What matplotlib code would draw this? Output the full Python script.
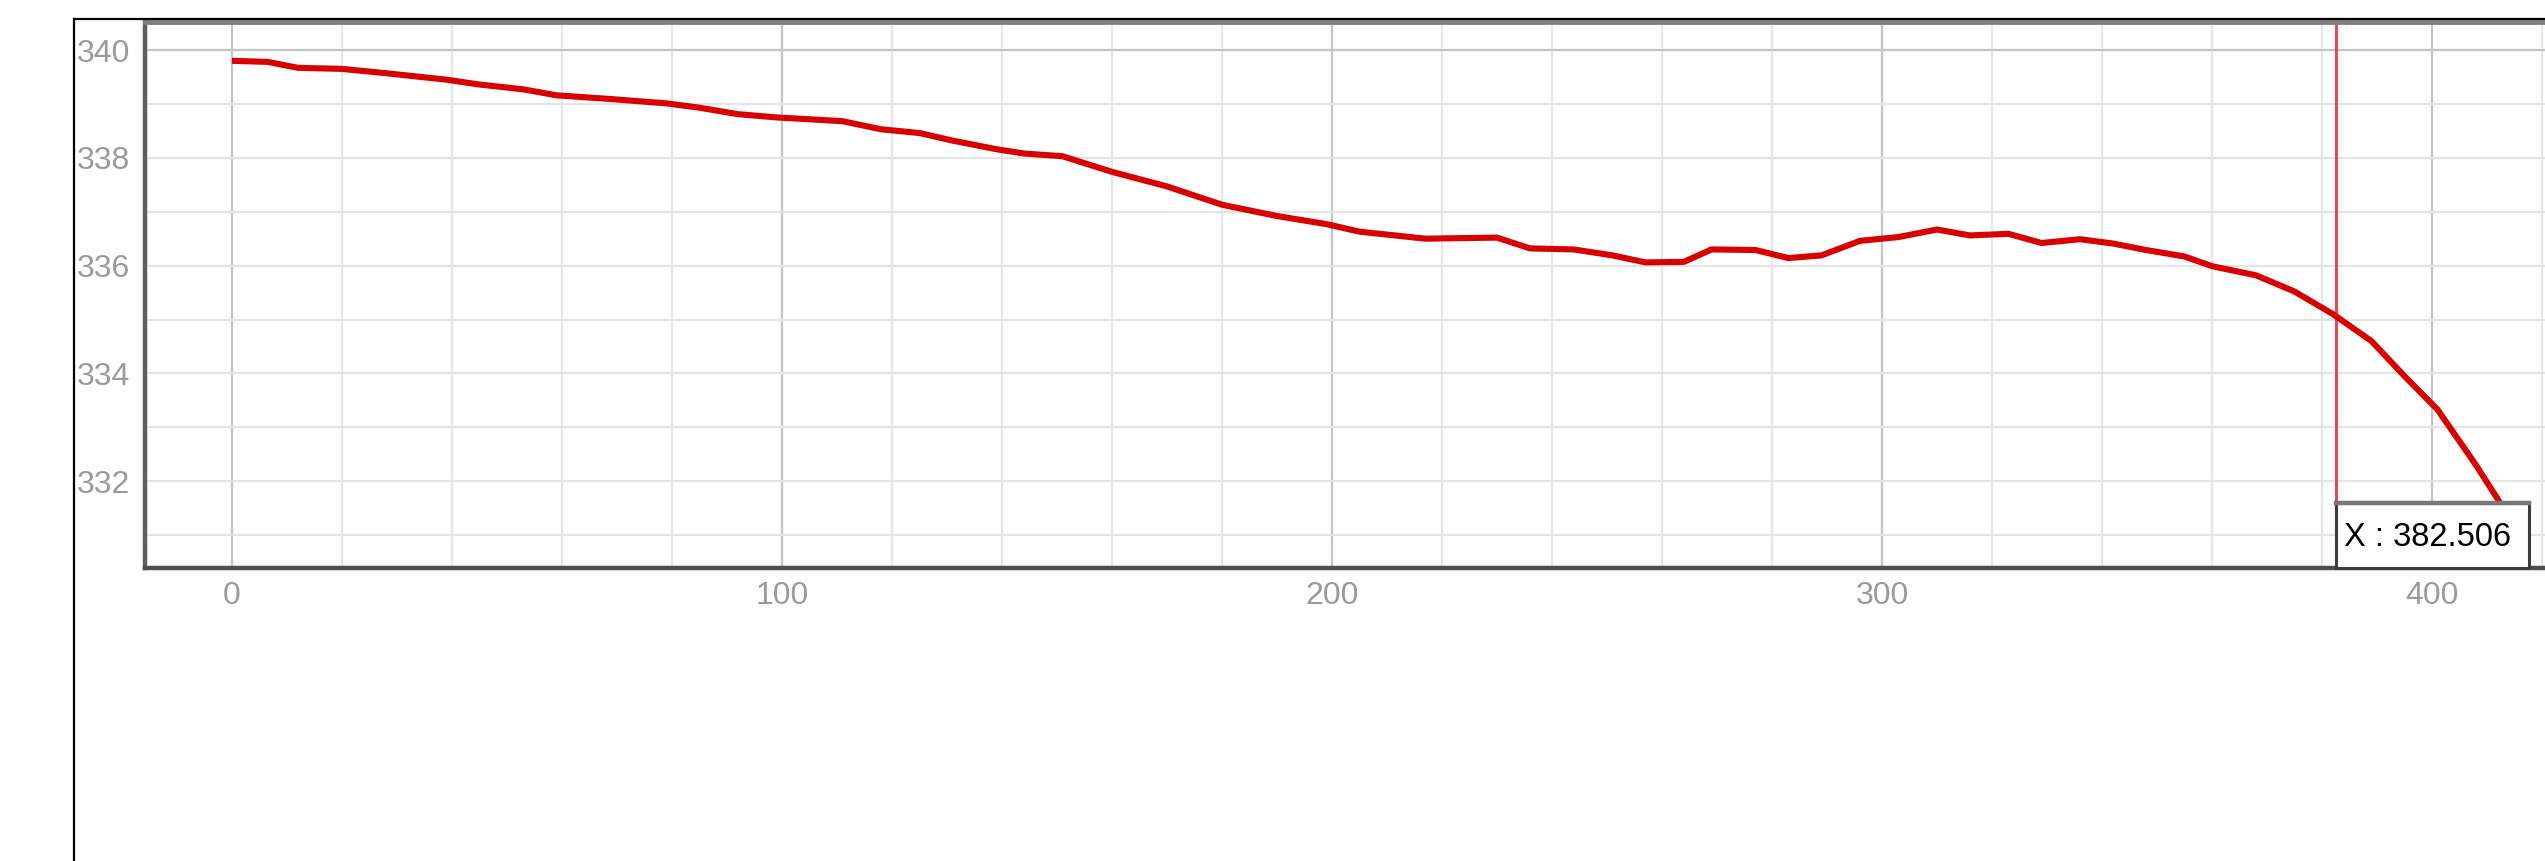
import matplotlib
matplotlib.use("Agg")
import matplotlib.pyplot as plt
from matplotlib.lines import Line2D
from matplotlib.patches import Rectangle
from matplotlib.transforms import blended_transform_factory
import numpy as np

# ---- data ----
x_vals = [0, 6.5, 12, 20, 28, 39, 45, 53, 59, 69,
          79, 85, 92, 99, 111, 118, 125, 131, 139, 144,
          151, 160, 170, 180, 190, 199, 205, 217, 230, 236,
          244, 251, 257, 264, 269, 277, 283, 289, 296, 303,
          310, 316, 323, 329, 336, 342, 348, 355, 360, 368,
          375, 382, 389, 395, 401, 408, 415.5]
y_vals = [339.80, 339.78, 339.67, 339.65, 339.57, 339.45, 339.36, 339.27, 339.16, 339.09,
          339.01, 338.93, 338.81, 338.75, 338.68, 338.53, 338.46, 338.32, 338.16, 338.08,
          338.03, 337.74, 337.47, 337.13, 336.92, 336.77, 336.63, 336.50, 336.52, 336.32,
          336.30, 336.19, 336.06, 336.07, 336.30, 336.29, 336.14, 336.19, 336.46, 336.53,
          336.67, 336.56, 336.59, 336.42, 336.49, 336.41, 336.29, 336.17, 335.99, 335.82,
          335.52, 335.10, 334.60, 333.95, 333.33, 332.30, 331.10]
x_ticks = [0, 100, 200, 300, 400]
y_ticks = [332, 334, 336, 338, 340]
x_minor_step = 20
y_minor_step = 1
cursor_x = 382.506
cursor_label = "X : 382.506"

W, H = 2545, 861
fig = plt.figure(figsize=(W / 100, H / 100), dpi=100)
fig.patch.set_facecolor("white")

# axes placement (pixels)
ax_left, ax_right, ax_top, ax_bottom = 145, 2545, 22, 568
ax = fig.add_axes([ax_left / W, 1 - ax_bottom / H,
                   (ax_right - ax_left) / W, (ax_bottom - ax_top) / H])
ax.set_facecolor("white")
ax.set_xlim(-15.8, 420.55)
ax.set_ylim(330.39, 340.52)

# grid
xmin, xmax = ax.get_xlim()
ymin, ymax = ax.get_ylim()
for v in np.arange(0, xmax, x_minor_step):
    major = any(abs(v - t) < 1e-6 for t in x_ticks)
    ax.axvline(v, color="#c4c4c4" if major else "#e6e6e6", lw=1.6, zorder=0)
for v in np.arange(np.ceil(ymin), ymax, y_minor_step):
    major = abs(v % 10) < 1e-6
    ax.axhline(v, color="#c4c4c4" if major else "#e4e4e4", lw=1.6, zorder=0)

# data line
ax.plot(x_vals, y_vals, color="#d80000", lw=4.4, solid_joinstyle="round",
        solid_capstyle="butt", zorder=3)

# cursor
ax.axvline(cursor_x, color="#e03a3a", lw=2.2, alpha=0.9, zorder=2)
trans = blended_transform_factory(ax.transData, ax.transAxes)
box_w = 193 / 5.5
box_h = 65 / (ax_bottom - ax_top)
ax.add_patch(Rectangle((cursor_x, 0), box_w, box_h, transform=trans,
                       facecolor="white", edgecolor="#3c3c3c", lw=2.2, zorder=5,
                       clip_on=False))
ax.add_line(Line2D([cursor_x, cursor_x + box_w], [box_h, box_h], transform=trans,
                   color="#777777", lw=3.2, zorder=6, clip_on=False))
ax.text(cursor_x + 8 / 5.5, box_h * 0.47, cursor_label, transform=trans,
        ha="left", va="center", fontsize=23.5, family="Liberation Sans",
        color="black", zorder=7)

# ticks
ax.set_xticks(x_ticks)
ax.set_yticks(y_ticks)
ax.set_xticklabels([str(t) for t in x_ticks])
ax.set_yticklabels([str(t) for t in y_ticks])
ax.tick_params(axis="both", length=0, labelsize=23, labelcolor="#9a9a9a")
ax.tick_params(axis="y", pad=11)
ax.tick_params(axis="x", pad=9)
for lbl in ax.get_xticklabels() + ax.get_yticklabels():
    lbl.set_family("Liberation Sans")

# spines
ax.spines["right"].set_visible(False)
ax.spines["top"].set_color("#808080")
ax.spines["top"].set_linewidth(3.5)
ax.spines["left"].set_color("#5e5e5e")
ax.spines["left"].set_linewidth(3.2)
ax.spines["bottom"].set_color("#4e4e4e")
ax.spines["bottom"].set_linewidth(3.2)

# outer frame lines
fig.add_artist(Line2D([74 / W, 74 / W], [0, 1 - 19 / H], transform=fig.transFigure,
                      color="black", lw=1.6))
fig.add_artist(Line2D([74 / W, 1], [1 - 19 / H, 1 - 19 / H], transform=fig.transFigure,
                      color="black", lw=1.6))

fig.savefig("out.png", dpi=100, facecolor="white")
